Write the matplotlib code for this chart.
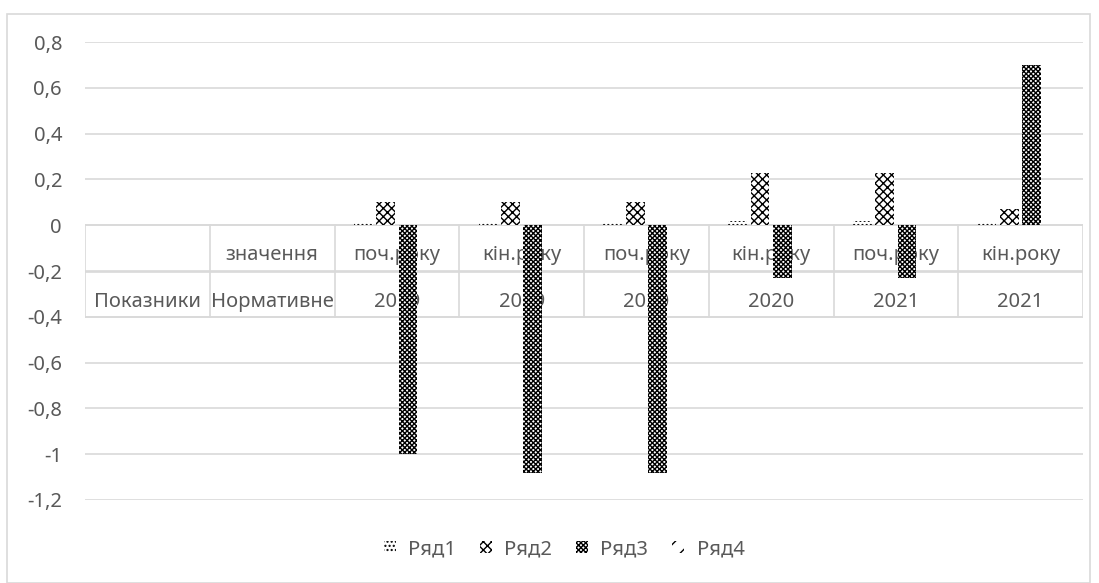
import matplotlib
matplotlib.use("Agg")
import matplotlib.pyplot as plt
from matplotlib.patches import Patch, Rectangle
import numpy as np

plt.rcParams['font.family'] = ['Noto Sans', 'DejaVu Sans']
plt.rcParams['hatch.linewidth'] = 1.0

# two-row category labels (upper row, lower row)
top_labels = ["", "значення", "поч.року", "кін.року", "поч.року", "кін.року", "поч.року", "кін.року"]
bottom_labels = ["Показники", "Нормативне", "2019", "2019", "2020", "2020", "2021", "2021"]

nan = np.nan
ryad1 = [nan, nan, 0.01, 0.01, 0.01, 0.02, 0.02, 0.01]
ryad2 = [nan, nan, 0.1, 0.1, 0.1, 0.23, 0.23, 0.07]
ryad3 = [nan, nan, -1.0, -1.08, -1.08, -0.23, -0.23, 0.7]
ryad4 = [nan, nan, 0, 0, 0, 0, 0, 0]

series_names = ["Ряд1", "Ряд2", "Ряд3", "Ряд4"]
series = [ryad1, ryad2, ryad3, ryad4]
hatches = ["....", "xxxx", "xxxxxxx", "//"]
hatch_widths = [1.0, 1.0, 1.0, 3.0]

text_color = "#595959"
grid_color = "#d9d9d9"
fs = 14.5


def fmt(v):
    s = "%g" % round(v, 1)
    return "0" if s == "-0" else s.replace(".", ",")


fig = plt.figure(figsize=(10.99, 5.83), dpi=100)
ax = fig.add_axes([85 / 1099, 83 / 583, 998 / 1099, 458 / 583])

x = np.arange(len(top_labels))
slot = 0.18
for k, (name, vals, h) in enumerate(zip(series_names, series, hatches)):
    ax.bar(x + (k - 1.5) * slot, vals, width=0.15, color="white", edgecolor="black",
           linewidth=0, hatch=h, zorder=3, label=name)

yt = np.arange(-1.2, 0.81, 0.2)
ax.set_xlim(-0.5, len(x) - 0.5)
ax.set_ylim(-1.2, 0.8)
ax.set_yticks(yt)
ax.set_yticklabels([fmt(v) for v in yt])
ax.tick_params(axis="y", length=0, pad=16.5, labelsize=fs, labelcolor=text_color)
ax.set_xticks([])
ax.grid(axis="y", color=grid_color, linewidth=1.2, zorder=0)
for s in ax.spines.values():
    s.set_visible(False)

# category table on the zero line
ax.axhline(0, color=grid_color, linewidth=1.2, zorder=1)
for b in np.arange(-0.5, len(x), 1.0):
    ax.plot([b, b], [0, -0.402], color=grid_color, linewidth=1.2, zorder=1)
ax.plot([-0.5, len(x) - 0.5], [-0.204, -0.204], color=grid_color, linewidth=1.2, zorder=1)
ax.plot([-0.5, len(x) - 0.5], [-0.402, -0.402], color=grid_color, linewidth=1.2, zorder=1)
for i in x:
    ax.text(i, -0.13, top_labels[i], ha="center", va="center", fontsize=fs, color=text_color, zorder=2)
    ax.text(i, -0.336, bottom_labels[i], ha="center", va="center", fontsize=fs, color=text_color, zorder=2)

handles = []
for h, lw in zip(hatches, hatch_widths):
    with plt.rc_context({'hatch.linewidth': lw}):
        handles.append(Patch(facecolor="white", edgecolor="black", linewidth=0, hatch=h))
fig.legend(handles, series_names, loc="center", bbox_to_anchor=(564 / 1099, 34 / 583), ncol=4,
           frameon=False, fontsize=fs, labelcolor=text_color, handlelength=0.6, handleheight=0.6,
           handletextpad=0.6, columnspacing=1.2)

fig.patches.append(Rectangle((7 / 1099, 0), 1083 / 1099, 569 / 583, transform=fig.transFigure,
                             fill=False, edgecolor=grid_color, linewidth=1.2))

fig.savefig("out.png", dpi=100)
